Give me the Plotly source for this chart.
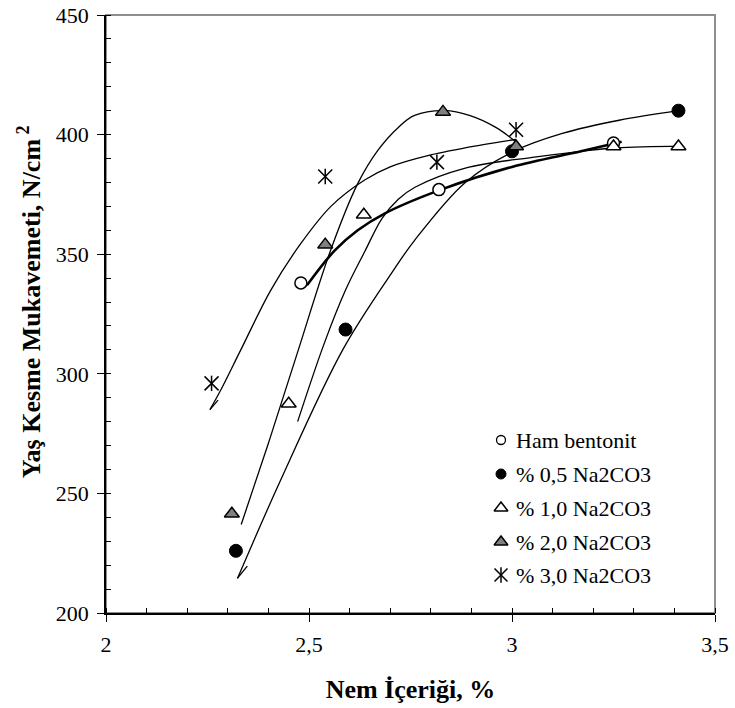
import plotly.graph_objects as go

# Measured points: moisture content (%) vs. green shear strength (N/cm2)
ham_x = [2.48, 2.82, 3.25]
ham_y = [338, 377, 396.5]
na05_x = [2.32, 2.59, 3.0, 3.41]
na05_y = [226, 318.5, 393, 410]
na10_x = [2.45, 2.635, 3.25, 3.41]
na10_y = [287.5, 366.5, 395, 395]
na20_x = [2.31, 2.54, 2.83, 3.01]
na20_y = [241.5, 354, 409.5, 395]
na30_x = [2.26, 2.54, 2.815, 3.01]
na30_y = [296, 382.5, 388.5, 402]

# Smoothed trend curves for each series
ham_fit_x = [2.495, 2.563, 2.62, 2.686, 2.825, 3.0, 3.17, 3.27]
ham_fit_y = [337, 351.5, 360, 367, 377, 386.5, 393, 397]
na05_fit_x = [2.324, 2.43, 2.583, 2.703, 2.761, 2.885, 3.004, 3.124, 3.264, 3.41]
na05_fit_y = [214.5, 255.5, 310, 342, 356, 380, 393, 400.5, 406, 410]
na10_fit_x = [2.472, 2.536, 2.59, 2.637, 2.68, 2.72, 2.761, 2.885, 3.05, 3.17, 3.258, 3.417]
na10_fit_y = [280, 312, 335, 351, 365, 373, 378, 386, 390.5, 393, 394.5, 395.2]
na20_fit_x = [2.333, 2.40, 2.47, 2.554, 2.62, 2.67, 2.72, 2.76, 2.835, 2.895, 2.96, 3.017]
na20_fit_y = [237, 271, 308, 352, 379.5, 393.5, 403, 408, 410, 408, 403, 396]
na30_fit_x = [2.256, 2.282, 2.332, 2.406, 2.48, 2.554, 2.637, 2.70, 2.80, 2.926, 3.01]
na30_fit_y = [285, 293, 310, 335, 354.5, 370, 381, 386.5, 391.5, 395.7, 398]

# Short barbs at the lower ends of two of the curves
na05_barb_x = [2.3235, 2.348]
na05_barb_y = [214.5, 219.6]
na30_barb_x = [2.256, 2.276]
na30_barb_y = [285, 289]

labels = ["Ham bentonit", "% 0,5 Na2CO3", "% 1,0 Na2CO3", "% 2,0 Na2CO3", "% 3,0 Na2CO3"]

x_ticks = [2, 2.5, 3, 3.5]
x_tick_text = ["2", "2,5", "3", "3,5"]
y_ticks = [200, 250, 300, 350, 400, 450]

FONT = "Liberation Serif"

fig = go.Figure()

thin = dict(color="black", width=1.3, shape="spline", smoothing=1.0)
for fx, fy in [(na05_fit_x, na05_fit_y), (na10_fit_x, na10_fit_y),
               (na20_fit_x, na20_fit_y), (na30_fit_x, na30_fit_y),
               (na05_barb_x, na05_barb_y), (na30_barb_x, na30_barb_y)]:
    fig.add_trace(go.Scatter(x=fx, y=fy, mode="lines", line=thin,
                             showlegend=False, hoverinfo="skip"))
fig.add_trace(go.Scatter(x=ham_fit_x, y=ham_fit_y, mode="lines",
                         line=dict(color="black", width=2.6, shape="spline", smoothing=1.0),
                         showlegend=False, hoverinfo="skip"))

# Marker styles per series
styles = [
    [dict(symbol="circle", size=12, color="white", line=dict(color="black", width=1.5))],
    [dict(symbol="circle", size=13, color="black", line=dict(color="black", width=1))],
    [dict(symbol="triangle-up", size=13, color="white", line=dict(color="black", width=1.5))],
    [dict(symbol="triangle-up", size=13, color="#808080", line=dict(color="black", width=1.5))],
    [dict(symbol="x-thin-open", size=14, color="black", line=dict(color="black", width=1.5)),
     dict(symbol="line-ns-open", size=11, color="black", line=dict(color="black", width=1.5))],
]
legend_styles = [
    [dict(symbol="circle", size=9, color="white", line=dict(color="black", width=1.3))],
    [dict(symbol="circle", size=10, color="black", line=dict(color="black", width=1))],
    [dict(symbol="triangle-up", size=12, color="white", line=dict(color="black", width=1.5))],
    [dict(symbol="triangle-up", size=12, color="#808080", line=dict(color="black", width=1.5))],
    [dict(symbol="x-thin-open", size=13, color="black", line=dict(color="black", width=1.5)),
     dict(symbol="line-ns-open", size=11, color="black", line=dict(color="black", width=1.5))],
]

series = [(ham_x, ham_y), (na05_x, na05_y), (na10_x, na10_y), (na20_x, na20_y), (na30_x, na30_y)]
for (sx, sy), st, name in zip(series, styles, labels):
    for m in st:
        fig.add_trace(go.Scatter(x=sx, y=sy, mode="markers", marker=m, name=name,
                                 showlegend=False))

# Legend block drawn on an overlay axis measured in pixels
leg_x = 501
leg_rows = [440, 474, 508, 542, 575]
for row, st, name in zip(leg_rows, legend_styles, labels):
    for m in st:
        fig.add_trace(go.Scatter(x=[leg_x], y=[row], mode="markers", marker=m,
                                 xaxis="x2", yaxis="y2", showlegend=False,
                                 hoverinfo="skip"))
    fig.add_annotation(x=leg_x + 13, y=row, xref="x2", yref="y2", text=name,
                       showarrow=False, xanchor="left", yanchor="middle",
                       font=dict(family=FONT, size=22, color="black"))

# Vertical axis title
fig.add_annotation(x=-0.126, y=0.52, xref="paper", yref="paper",
                   text="<b>Yaş Kesme Mukavemeti, N/cm<sup> 2</sup></b>",
                   textangle=-90, showarrow=False, xanchor="center", yanchor="middle",
                   font=dict(family=FONT, size=26, color="black"))

# Grey frame around the plotting area
fig.add_shape(type="rect", xref="paper", yref="paper", x0=0, x1=1, y0=0, y1=1,
              line=dict(color="#8f8f8f", width=2), layer="below")

fig.update_layout(
    width=735, height=708,
    margin=dict(l=106, r=20, t=15, b=95, autoexpand=False),
    paper_bgcolor="white", plot_bgcolor="white",
    font=dict(family=FONT, size=22, color="black"),
    showlegend=False,
    xaxis=dict(
        range=[2, 3.5], tickvals=x_ticks, ticktext=x_tick_text,
        showgrid=False, zeroline=False, automargin=False,
        showline=True, linecolor="black", linewidth=1.5,
        ticks="outside", ticklen=7, tickwidth=1.2, tickcolor="black",
        minor=dict(dtick=0.1, ticks="inside", ticklen=5, tickwidth=1, tickcolor="black"),
        tickfont=dict(family=FONT, size=22),
        ticklabelstandoff=4,
        title=dict(text="<b>Nem İçeriği, %</b>", font=dict(family=FONT, size=26), standoff=24),
    ),
    yaxis=dict(
        range=[200, 450], tickvals=y_ticks,
        showgrid=False, zeroline=False, automargin=False,
        showline=True, linecolor="black", linewidth=1.5,
        ticks="outside", ticklen=7, tickwidth=1.2, tickcolor="black",
        minor=dict(dtick=10, ticks="inside", ticklen=5, tickwidth=1, tickcolor="black"),
        tickfont=dict(family=FONT, size=22),
        ticklabelstandoff=4,
    ),
    xaxis2=dict(overlaying="x", range=[106, 715], visible=False, fixedrange=True),
    yaxis2=dict(overlaying="y", range=[613, 15], visible=False, fixedrange=True),
)

fig.write_html("out.html")
